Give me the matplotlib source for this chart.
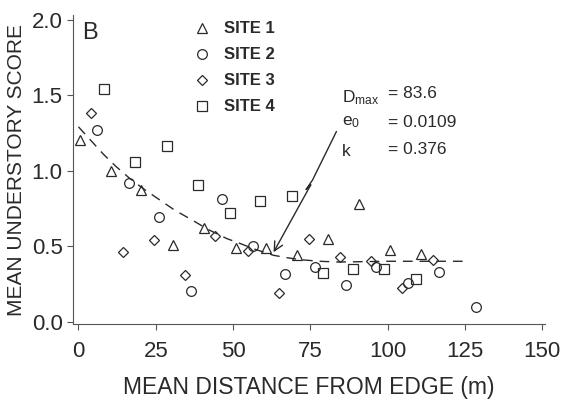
import matplotlib.pyplot as plt

plt.rcParams['font.family'] = ['Liberation Sans', 'DejaVu Sans']

# site data: mean distance from edge (m), mean understory score
site1_x = [0.5, 10.4, 20.3, 30.5, 40.6, 50.8, 60.7, 70.6, 80.8, 90.7, 100.6, 110.7]
site1_y = [1.20, 1.00, 0.87, 0.51, 0.62, 0.49, 0.49, 0.44, 0.55, 0.78, 0.475, 0.45]

site2_x = [6.0, 16.2, 26.2, 36.5, 46.4, 56.6, 66.7, 76.6, 86.6, 96.3, 106.6, 116.5, 128.7]
site2_y = [1.27, 0.92, 0.695, 0.20, 0.81, 0.50, 0.316, 0.36, 0.245, 0.36, 0.254, 0.33, 0.10]

site3_x = [4.1, 14.3, 24.4, 34.5, 44.3, 54.8, 64.8, 74.5, 84.6, 94.5, 104.6, 114.7]
site3_y = [1.38, 0.46, 0.54, 0.31, 0.57, 0.47, 0.19, 0.55, 0.43, 0.40, 0.225, 0.41]

site4_x = [8.4, 18.4, 28.6, 38.6, 48.9, 58.8, 69.0, 79.1, 88.8, 98.8, 109.1]
site4_y = [1.54, 1.06, 1.16, 0.905, 0.72, 0.80, 0.83, 0.32, 0.35, 0.35, 0.28]

# fitted curve
fit_x = [0, 4, 8, 12, 16.5, 21, 26, 31, 37, 42, 48, 52, 57, 63, 67, 72, 78, 84, 100, 125]
fit_y = [1.29, 1.20, 1.11, 1.03, 0.95, 0.88, 0.81, 0.74, 0.67, 0.61, 0.55, 0.52, 0.48, 0.44, 0.425, 0.41, 0.40, 0.395, 0.40, 0.40]

# arrow path from the parameter text to Dmax
arrow_x = [83.4, 75.7, 73.6, 75.1]
arrow_y = [1.258, 0.938, 0.875, 0.905]
arrow_end = (63.1, 0.46)

ink = '#2a2a2a'

fig = plt.figure(figsize=(5.61, 4.08), dpi=100)
ax = fig.add_axes([0.130, 0.206, 0.841, 0.757])

mk = dict(linestyle='none', markerfacecolor='none', markeredgecolor=ink,
          markeredgewidth=0.9)
ax.plot(site1_x, site1_y, marker='^', markersize=7, label='SITE 1', **mk)
ax.plot(site2_x, site2_y, marker='o', markersize=7, label='SITE 2', **mk)
ax.plot(site3_x, site3_y, marker='D', markersize=5, label='SITE 3', **mk)
ax.plot(site4_x, site4_y, marker='s', markersize=7, label='SITE 4', **mk)

ax.plot(fit_x, fit_y, color=ink, linestyle=(0, (7, 5)), linewidth=1.0)

ax.plot(arrow_x, arrow_y, color=ink, linewidth=1.0)
ax.annotate('', xy=arrow_end, xytext=(arrow_x[-1], arrow_y[-1]),
            arrowprops=dict(arrowstyle='->', color=ink, lw=1.0,
                            shrinkA=0, shrinkB=0, mutation_scale=16))

ax.text(85.3, 1.45, r'$\mathregular{D_{max}}$', fontsize=12.5, color=ink)
ax.text(100, 1.51, '= 83.6', fontsize=12.5, color=ink, va='center')
ax.text(85.3, 1.30, r'$\mathregular{e_0}$', fontsize=12.5, color=ink)
ax.text(100, 1.32, '= 0.0109', fontsize=12.5, color=ink, va='center')
ax.text(85.3, 1.10, 'k', fontsize=12.5, color=ink)
ax.text(100, 1.14, '= 0.376', fontsize=12.5, color=ink, va='center')

ax.text(1.2, 1.91, 'B', fontsize=17, color=ink, va='center')

leg = ax.legend(loc='upper left', bbox_to_anchor=(0.225, 1.028), frameon=False,
                handlelength=1.0, handletextpad=0.8, labelspacing=0.66,
                prop=dict(size=12, weight='bold'))
for t in leg.get_texts():
    t.set_color(ink)

ax.set_xlim(-1.8, 150.8)
ax.set_ylim(-0.015, 2.03)
ax.set_xticks([0, 25, 50, 75, 100, 125, 150])
ax.set_yticks([0.0, 0.5, 1.0, 1.5, 2.0])
ax.set_yticklabels(['0.0', '0.5', '1.0', '1.5', '2.0'])
ax.spines['top'].set_visible(False)
ax.spines['right'].set_visible(False)
for s in ['left', 'bottom']:
    ax.spines[s].set_color('#555555')
ax.tick_params(direction='out', length=4, color='#555555', labelsize=16,
               labelcolor=ink)
ax.tick_params(axis='x', pad=8)

ax.set_xlabel('MEAN DISTANCE FROM EDGE (m)', fontsize=16.5, color=ink, labelpad=10)
ax.set_ylabel('MEAN UNDERSTORY SCORE', fontsize=15, color=ink, labelpad=4)

fig.savefig('out.png', dpi=100)
